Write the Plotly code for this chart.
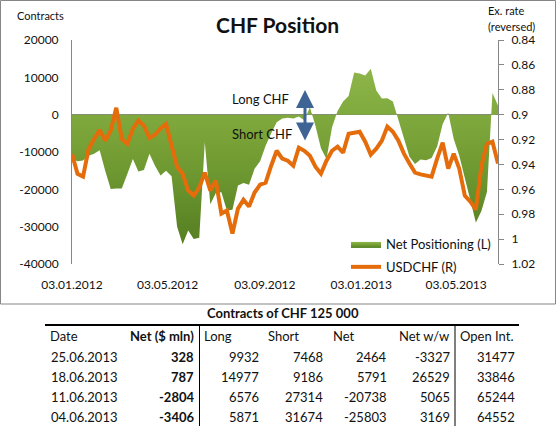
import pandas as pd
import plotly.graph_objects as go

# weekly COT reports (Tuesdays), 03.01.2012 .. 25.06.2013
dates = pd.date_range("2012-01-03", periods=78, freq="7D")

# net positioning in contracts (left axis)
net_positioning = [
    -11900, -12500, -12300, -11000, -10500, -9500, -15000, -19900, -19800, -19800,
    -15900, -11900, -15200, -14800, -10500, -13700, -16300, -15000, -16500, -30000,
    -34700, -31000, -33300, -33000, -7400, -24000, -21000, -20800, -25700, -25500,
    -19000, -18300, -18800, -14500, -12500, -8300, -5000, -2000, -1000, -800,
    -1000, -500, -1500, 2000, -3000, -9000, -11900, -3400, 1000, 3500,
    5000, 11300, 11000, 10500, 12300, 6500, 4300, 4400, 3500, -1500,
    -6500, -11300, -13200, -12000, -12200, -11600, -8500, -2500, 500, -6500,
    -11000, -17000, -23500, -28900, -25803, -20738, 5791, 2464,
]

# USDCHF exchange rate (right axis, reversed)
usdchf = [
    0.9316, 0.9476, 0.9498, 0.9276, 0.9195, 0.9123, 0.9209, 0.9128, 0.8945, 0.9195,
    0.9235, 0.9115, 0.9048, 0.9088, 0.9187, 0.9161, 0.9110, 0.9075, 0.9250, 0.9418,
    0.9474, 0.9610, 0.9650, 0.9586, 0.9466, 0.9610, 0.9530, 0.9795, 0.9770, 0.9956,
    0.9755, 0.9683, 0.9739, 0.9626, 0.9562, 0.9546, 0.9410, 0.9290, 0.9353, 0.9370,
    0.9410, 0.9265, 0.9290, 0.9330, 0.9418, 0.9474, 0.9370, 0.9290, 0.9257, 0.9305,
    0.9153, 0.9145, 0.9137, 0.9217, 0.9321, 0.9273, 0.9209, 0.9096, 0.9137, 0.9209,
    0.9313, 0.9393, 0.9466, 0.9480, 0.9490, 0.9498, 0.9353, 0.9225, 0.9434, 0.9313,
    0.9434, 0.9650, 0.9699, 0.9763, 0.9410, 0.9233, 0.9217, 0.9393,
]

x_ticks = ["2012-01-03", "2012-05-03", "2012-09-03", "2013-01-03", "2013-05-03"]
left_ticks = [-40000, -30000, -20000, -10000, 0, 10000, 20000]
right_ticks = [0.84, 0.86, 0.88, 0.9, 0.92, 0.94, 0.96, 0.98, 1.0, 1.02]

# table below the chart
table_dates = ["25.06.2013", "18.06.2013", "11.06.2013", "04.06.2013"]
table_net_usd = [328, 787, -2804, -3406]
table_long = [9932, 14977, 6576, 5871]
table_short = [7468, 9186, 27314, 31674]
table_net = [2464, 5791, -20738, -25803]
table_net_ww = [-3327, 26529, 5065, 3169]
table_open_int = [31477, 33846, 65244, 64552]

FONT = "Lato"
TXT = "#111111"
GREY = "#868686"
W, H = 556, 426
L, R, T, B = 72, 58, 40, 162


# pixel -> paper helpers (plot area is 72..498 x 40..264)
def fx(px):
    return (px - L) / (W - L - R)


def fy(py):
    return (H - B - py) / (H - T - B)


fig = go.Figure()

fig.add_trace(go.Scatter(
    x=dates, y=net_positioning,
    mode="lines", fill="tozeroy",
    line=dict(width=0, color="#7da23a"),
    fillgradient=dict(type="vertical",
                      colorscale=[[0, "#557f22"], [0.55, "#76a035"], [1, "#8db54a"]]),
    name="Net Positioning (L)", legendgroup="a",
))

fig.add_trace(go.Scatter(
    x=dates, y=usdchf, yaxis="y2",
    mode="lines", line=dict(color="#E46C0A", width=4),
    name="USDCHF (R)", legendgroup="b",
))

ann = []


def text(s, px, py, size=12, anchor="left", bold=False):
    ann.append(dict(
        text=f"<b>{s}</b>" if bold else s,
        x=fx(px), y=fy(py), xref="paper", yref="paper",
        xanchor=anchor, yanchor="middle", showarrow=False,
        font=dict(family=FONT, size=size, color=TXT),
    ))


# titles / axis captions
text("CHF Position", 277, 25, size=21, anchor="center", bold=True)
text("Contracts", 40, 15, size=11, anchor="center")
text("Ex. rate", 486, 11, size=11)
text("(reversed)", 486, 26, size=11)
text("Long CHF", 230, 99, size=13)
text("Short CHF", 230, 134, size=13)

# double headed arrow between long / short
ann.append(dict(
    x=fx(305), y=fy(90), xref="paper", yref="paper",
    ax=0, ay=52, text="", showarrow=True,
    arrowhead=2, startarrowhead=2, arrowside="end+start",
    arrowwidth=3, arrowsize=1.2, startarrowsize=1.2, arrowcolor="#3d6494",
))

# table
text("Contracts of CHF 125 000", 283, 313, size=13, anchor="center", bold=True)
hdr_y = 336
text("Date", 48, hdr_y, size=13)
text("Net ($ mln)", 196, hdr_y, size=13, anchor="right", bold=True)
text("Long", 202, hdr_y, size=13)
text("Short", 266, hdr_y, size=13)
text("Net", 331, hdr_y, size=13)
text("Net w/w", 451, hdr_y, size=13, anchor="right")
text("Open Int.", 458, hdr_y, size=13)

for i in range(len(table_dates)):
    ry = 356.5 + 20 * i
    text(table_dates[i], 119, ry, size=13, anchor="right")
    text(str(table_net_usd[i]), 196, ry, size=13, anchor="right", bold=True)
    text(str(table_long[i]), 261, ry, size=13, anchor="right")
    text(str(table_short[i]), 325, ry, size=13, anchor="right")
    text(str(table_net[i]), 389, ry, size=13, anchor="right")
    text(str(table_net_ww[i]), 452, ry, size=13, anchor="right")
    text(str(table_open_int[i]), 517, ry, size=13, anchor="right")

shapes = [
    # chart frame
    dict(type="rect", xref="paper", yref="paper",
         x0=fx(0.5), x1=fx(555.5), y0=fy(0.5), y1=fy(304),
         line=dict(color=GREY, width=1)),
    # table rules
    dict(type="line", xref="paper", yref="paper",
         x0=fx(45), x1=fx(519), y0=fy(325), y1=fy(325),
         line=dict(color="black", width=2)),
    dict(type="line", xref="paper", yref="paper",
         x0=fx(199.5), x1=fx(199.5), y0=fy(326), y1=fy(426),
         line=dict(color="black", width=1)),
    dict(type="line", xref="paper", yref="paper",
         x0=fx(455), x1=fx(455), y0=fy(326), y1=fy(426),
         line=dict(color="black", width=1)),
]

fig.update_layout(
    width=W, height=H,
    margin=dict(l=L, r=R, t=T, b=B),
    paper_bgcolor="white", plot_bgcolor="white",
    font=dict(family=FONT, size=12, color=TXT),
    showlegend=True,
    legend=dict(x=fx(346), y=fy(229), xanchor="left", yanchor="top",
                bgcolor="rgba(0,0,0,0)", font=dict(size=13),
                itemwidth=30, traceorder="grouped", tracegroupgap=3),
    xaxis=dict(type="date", range=[dates[0], dates[-1]],
               tickvals=x_ticks, tickformat="%d.%m.%Y",
               showgrid=False, showline=False, zeroline=False,
               ticks="", ticklabelstandoff=12),
    yaxis=dict(range=[-40000, 20000], tickvals=left_ticks,
               ticktext=[str(v) for v in left_ticks],
               showgrid=False, zeroline=True, zerolinecolor=GREY, zerolinewidth=1,
               showline=True, linecolor=GREY, ticks="", ticklabelstandoff=10),
    yaxis2=dict(overlaying="y", side="right", range=[1.02, 0.84],
                tickvals=right_ticks, ticktext=[f"{v:g}" for v in right_ticks],
                showgrid=False, zeroline=False,
                showline=True, linecolor=GREY,
                ticks="outside", ticklen=5, tickcolor=GREY, ticklabelstandoff=5),
    annotations=ann,
    shapes=shapes,
)

# drop the default page margin so the figure sits at the window's corner
fig.write_html("out.html", config={"displayModeBar": False},
               post_script="document.body.style.margin='0';")
